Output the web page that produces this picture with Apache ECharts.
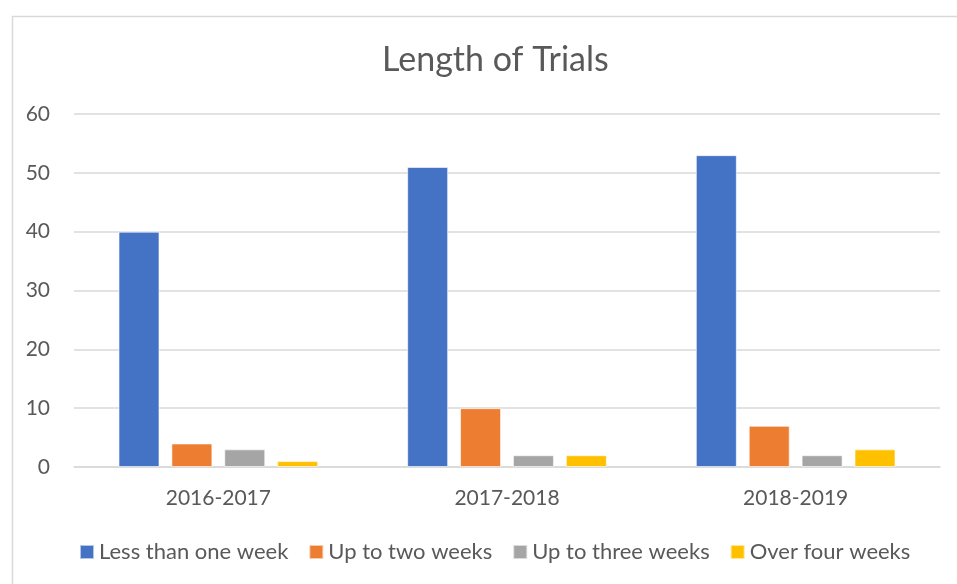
<!DOCTYPE html>
<html>
<head>
<meta charset="utf-8">
<script src="https://cdn.jsdelivr.net/npm/echarts@6/dist/echarts.min.js"></script>
<style>
    html, body { margin: 0; padding: 0; background: #fff; }
    #chart { width: 957px; height: 584px; }
</style>
</head>
<body>
<div id="chart"></div>
<script>
// Data
const years = ['2016-2017', '2017-2018', '2018-2019']
const lessThanOneWeek = [40, 51, 53]
const upToTwoWeeks = [4, 10, 7]
const upToThreeWeeks = [3, 2, 2]
const overFourWeeks = [1, 2, 3]

const seriesNames = ['Less than one week', 'Up to two weeks', 'Up to three weeks', 'Over four weeks']
const seriesData = [lessThanOneWeek, upToTwoWeeks, upToThreeWeeks, overFourWeeks]
const COLORS = ['#4472c4', '#ed7d31', '#a5a5a5', '#ffc000']

const FONT = 'Lato, "Open Sans", sans-serif'
const TEXT = '#595959'

const chart = echarts.init(document.getElementById('chart'))

chart.setOption({
    animation: false,
    title: {
        text: 'Length of Trials',
        left: 377,
        top: 38,
        textStyle: { fontFamily: FONT, fontSize: 34, fontWeight: 'normal', color: TEXT }
    },
    graphic: [
        {
            type: 'rect',
            left: 10,
            top: 14,
            shape: { width: 960, height: 600 },
            style: { fill: 'none', stroke: '#d9d9d9', lineWidth: 1.5 },
            silent: true
        }
    ],
    legend: {
        data: seriesNames,
        bottom: 16,
        left: 74,
        itemWidth: 14,
        itemHeight: 14,
        itemGap: 20,
        icon: 'rect',
        textStyle: { fontFamily: FONT, fontSize: 22, color: TEXT }
    },
    grid: { left: 74, right: 17, top: 114, bottom: 117 },
    xAxis: {
        type: 'category',
        data: years,
        axisLine: { lineStyle: { color: '#d9d9d9', width: 1.5 } },
        axisTick: { show: false },
        axisLabel: { fontFamily: FONT, fontSize: 21, color: TEXT, margin: 21 }
    },
    yAxis: {
        type: 'value',
        min: 0,
        max: 60,
        interval: 10,
        axisLine: { show: false },
        axisTick: { show: false },
        splitLine: { lineStyle: { color: '#d9d9d9', width: 1.5 } },
        axisLabel: { fontFamily: FONT, fontSize: 21, color: TEXT, margin: 24 }
    },
    series: seriesNames.map((name, i) => ({
        name,
        type: 'bar',
        data: seriesData[i],
        barWidth: 41,
        barGap: '29%',
        itemStyle: { color: COLORS[i], borderColor: 'rgba(255,255,255,0.6)', borderWidth: 1 }
    }))
})
</script>
</body>
</html>
